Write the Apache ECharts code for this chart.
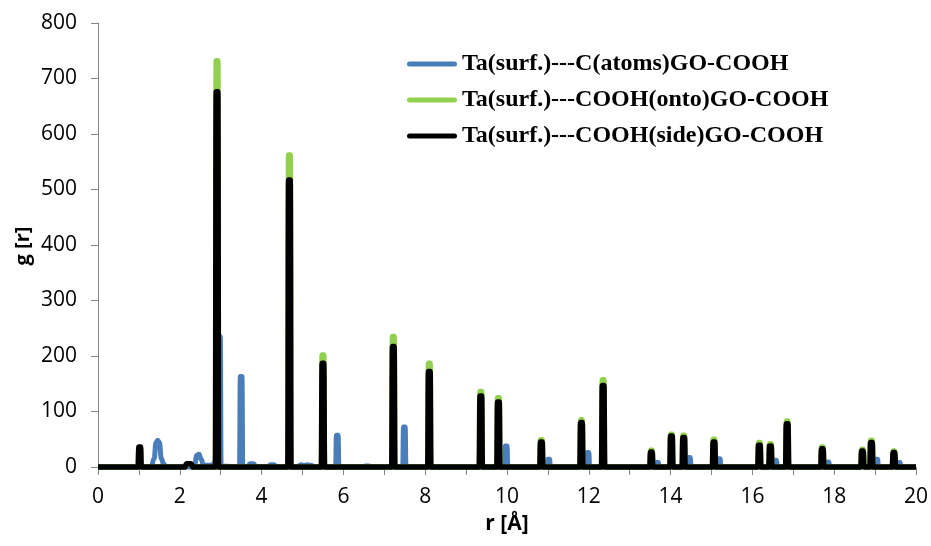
<!DOCTYPE html>
<html>
<head>
<meta charset="utf-8">
<script src="https://cdn.jsdelivr.net/npm/echarts@6/dist/echarts.min.js"></script>
<style>
html,body{margin:0;padding:0;background:#fff;}
#chart{width:931px;height:546px;}
</style>
</head>
<body>
<div id="chart"></div>
<script>
// Series names
const seriesNames = [
  'Ta(surf.)---C(atoms)GO-COOH',
  'Ta(surf.)---COOH(onto)GO-COOH',
  'Ta(surf.)---COOH(side)GO-COOH'
];

// Axis ticks
const xTicks = [0, 2, 4, 6, 8, 10, 12, 14, 16, 18, 20];
const yTicks = [0, 100, 200, 300, 400, 500, 600, 700, 800];

// Ta(surf.)---C(atoms)GO-COOH  (blue)
const atomsR = [0,
  1.30, 1.37, 1.42, 1.46, 1.50, 1.55, 1.60, 1.66,
  2.35, 2.42, 2.47, 2.52, 2.58, 2.80, 2.86, 2.91,
  2.95, 2.97, 2.99, 3.01, 3.05,
  3.46, 3.48, 3.52, 3.54, 3.66, 3.72, 3.80, 3.86, 4.15, 4.22, 4.30, 4.38,
  4.88, 4.96, 5.04, 5.12, 5.20, 5.30,
  5.81, 5.83, 5.87, 5.89, 6.45, 6.55, 6.62, 6.68, 7.45, 7.47, 7.51, 7.53,
  9.94, 9.96, 10.00, 10.02, 10.98, 11.00, 11.04, 11.06, 11.94, 11.96, 12.00, 12.02,
  13.64, 13.66, 13.70, 13.72, 14.42, 14.44, 14.48, 14.50,
  15.15, 15.17, 15.21, 15.23, 16.53, 16.55, 16.59, 16.61, 17.81, 17.83, 17.87, 17.89,
  19.00, 19.02, 19.06, 19.08, 19.55, 19.57, 19.61, 19.63, 20];
const atomsG = [0,
  0, 15, 44, 48, 44, 15, 6, 0,
  0, 21, 23, 14, 3, 3, 9, 6,
  0, 235, 235, 0, 2,
  0, 163, 163, 0, 0, 6, 6, 0, 0, 4, 4, 0,
  0, 4, 3, 4, 3, 0,
  0, 57, 57, 0, 0, 2, 2, 0, 0, 72, 72, 0,
  0, 38, 38, 0, 0, 14, 14, 0, 0, 26, 26, 0,
  0, 8, 8, 0, 0, 17, 17, 0,
  0, 15, 15, 0, 0, 12, 12, 0, 0, 9, 9, 0,
  0, 14, 14, 0, 0, 8, 8, 0, 0];

// Shared r grid of the COOH series (four points per peak)
const coohR = [0,
  0.98, 1.00, 1.04, 1.06, 2.12, 2.17, 2.27, 2.32,
  2.87, 2.89, 2.93, 2.95, 4.64, 4.66, 4.70, 4.72,
  5.46, 5.48, 5.52, 5.54, 7.18, 7.20, 7.24, 7.26, 8.06, 8.08, 8.12, 8.14,
  9.32, 9.34, 9.38, 9.40, 9.75, 9.77, 9.81, 9.83,
  10.80, 10.82, 10.86, 10.88, 11.78, 11.80, 11.84, 11.86, 12.31, 12.33, 12.37, 12.39,
  13.49, 13.51, 13.55, 13.57, 13.98, 14.00, 14.04, 14.06, 14.28, 14.30, 14.34, 14.36,
  15.02, 15.04, 15.08, 15.10, 16.13, 16.15, 16.19, 16.21, 16.40, 16.42, 16.46, 16.48,
  16.81, 16.83, 16.87, 16.89, 17.67, 17.69, 17.73, 17.75,
  18.65, 18.67, 18.71, 18.73, 18.87, 18.89, 18.93, 18.95, 19.42, 19.44, 19.48, 19.50, 20];

// Ta(surf.)---COOH(onto)GO-COOH (green)
const ontoG = [0,
  0, 34, 34, 0, 0, 5, 5, 0,
  0, 732, 732, 0, 0, 562, 562, 0,
  0, 202, 202, 0, 0, 235, 235, 0, 0, 187, 187, 0,
  0, 136, 136, 0, 0, 125, 125, 0,
  0, 49, 49, 0, 0, 85, 85, 0, 0, 157, 157, 0,
  0, 30, 30, 0, 0, 59, 59, 0, 0, 57, 57, 0,
  0, 50, 50, 0, 0, 44, 44, 0, 0, 42, 42, 0,
  0, 83, 83, 0, 0, 36, 36, 0,
  0, 32, 32, 0, 0, 48, 48, 0, 0, 29, 29, 0, 0];

// Ta(surf.)---COOH(side)GO-COOH (black)
const sideG = [0,
  0, 36, 36, 0, 0, 6, 6, 0,
  0, 676, 676, 0, 0, 517, 517, 0,
  0, 187, 187, 0, 0, 217, 217, 0, 0, 172, 172, 0,
  0, 128, 128, 0, 0, 117, 117, 0,
  0, 45, 45, 0, 0, 80, 80, 0, 0, 147, 147, 0,
  0, 27, 27, 0, 0, 56, 56, 0, 0, 53, 53, 0,
  0, 45, 45, 0, 0, 39, 39, 0, 0, 38, 38, 0,
  0, 78, 78, 0, 0, 33, 33, 0,
  0, 29, 29, 0, 0, 44, 44, 0, 0, 26, 26, 0, 0];

const colors = ['#4A7EBB', '#92D050', '#000000'];
const widths = [5, 5.5, 5.5];

function pairs(xs, ys) { return xs.map((x, i) => [x, ys[i]]); }

const chart = echarts.init(document.getElementById('chart'), null, {renderer: 'canvas'});
const tickFont = {fontFamily: '"Open Sans", sans-serif', fontSize: 21, color: '#000'};
const legendIcon = 'path://M2.5,0 L47.5,0 A2.5,2.5 0 0 1 47.5,5 L2.5,5 A2.5,2.5 0 0 1 2.5,0 Z';

function lineSeries(i, data, z) {
  return {
    name: seriesNames[i], type: 'line', data: data,
    showSymbol: false, symbol: 'none', clip: false,
    smooth: 0.5, smoothMonotone: 'x',
    color: colors[i],
    lineStyle: {width: widths[i], color: colors[i], cap: 'butt', join: 'round'},
    z: z
  };
}

chart.setOption({
  animation: false,
  backgroundColor: '#ffffff',
  grid: {left: 98, right: 13, top: 23, bottom: 79, containLabel: false},
  legend: {
    orient: 'vertical',
    left: 402,
    top: 47,
    itemWidth: 50,
    itemHeight: 5,
    itemGap: 12,
    icon: legendIcon,
    data: seriesNames,
    textStyle: {fontFamily: '"Liberation Serif", serif', fontWeight: 'bold', fontSize: 24, lineHeight: 24, color: '#000'}
  },
  xAxis: {
    type: 'value',
    min: xTicks[0], max: xTicks[xTicks.length - 1], interval: 2,
    name: 'r [Å]', nameLocation: 'middle', nameGap: 47,
    nameTextStyle: {fontFamily: '"Open Sans", sans-serif', fontWeight: 'bold', fontSize: 21, color: '#000'},
    axisLine: {lineStyle: {color: '#868686', width: 1}},
    axisTick: {show: true, length: 8, lineStyle: {color: '#868686'}},
    minorTick: {show: true, splitNumber: 2, length: 8, lineStyle: {color: '#868686'}},
    axisLabel: Object.assign({margin: 20}, tickFont),
    splitLine: {show: false}
  },
  yAxis: {
    type: 'value',
    min: yTicks[0], max: yTicks[yTicks.length - 1], interval: 100,
    axisLine: {show: true, lineStyle: {color: '#868686', width: 1}},
    axisTick: {show: true, length: 7, lineStyle: {color: '#868686'}},
    axisLabel: Object.assign({margin: 21}, tickFont),
    splitLine: {show: false}
  },
  graphic: [{
    type: 'text',
    x: 23, y: 246,
    rotation: Math.PI / 2,
    style: {
      text: 'g [r]',
      fontFamily: '"Open Sans", sans-serif', fontWeight: 'bold', fontSize: 20,
      fill: '#000', align: 'center', verticalAlign: 'middle'
    }
  }],
  series: [
    lineSeries(0, pairs(atomsR, atomsG), 2),
    lineSeries(1, pairs(coohR, ontoG), 3),
    lineSeries(2, pairs(coohR, sideG), 4)
  ]
});
</script>
</body>
</html>
